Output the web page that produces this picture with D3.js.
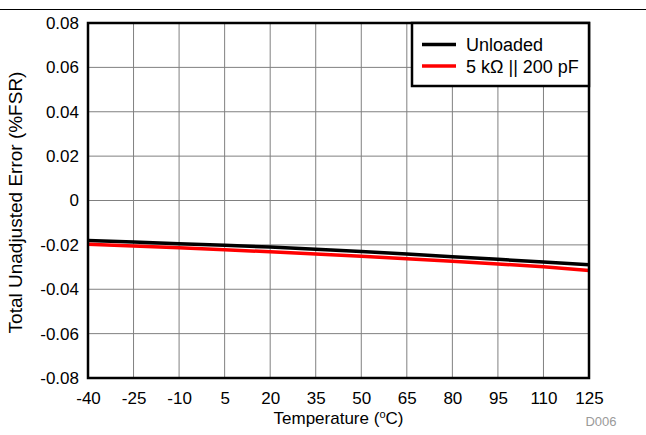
<!DOCTYPE html>
<html><head><meta charset="utf-8">
<script src="https://cdn.jsdelivr.net/npm/d3@7"></script>
<style>body{margin:0;background:#fff}svg{display:block;font-family:"Liberation Sans",Arial,sans-serif}</style>
</head><body><svg id="c" width="646" height="435"></svg>
<script>
const temps = [-40,-25,-10,5,20,35,50,65,80,95,110,125];
const unloaded = [-0.0180,-0.0187,-0.0195,-0.0202,-0.0210,-0.0220,-0.0230,-0.0241,-0.0253,-0.0265,-0.0277,-0.0290];
const loaded = [-0.0197,-0.0205,-0.0213,-0.0222,-0.0231,-0.0241,-0.0251,-0.0262,-0.0274,-0.0286,-0.0299,-0.0315];
const yTicks = [-0.08,-0.06,-0.04,-0.02,0,0.02,0.04,0.06,0.08];
const yLabels = ["-0.08","-0.06","-0.04","-0.02","0","0.02","0.04","0.06","0.08"];
const seriesNames = ["Unloaded","5 k\u03A9 || 200 pF"];
const colors = ["#000000","#ff0000"];

const FONT = "Liberation Sans, Arial, sans-serif";
const svg = d3.select("#c");
const L=88,R=589,T=23,B=378;
const x = d3.scaleLinear().domain([-40,125]).range([L,R]);
const y = d3.scaleLinear().domain([-0.08,0.08]).range([B,T]);

svg.append("line").attr("x1",0).attr("x2",646).attr("y1",9.5).attr("y2",9.5).attr("stroke","#000").attr("stroke-width",1.2);

const g = svg.append("g");
g.selectAll(".vg").data(temps.slice(1,-1)).enter().append("line")
 .attr("x1",d=>x(d)).attr("x2",d=>x(d)).attr("y1",T).attr("y2",B).attr("stroke","#808080").attr("stroke-width",1);
g.selectAll(".hg").data(yTicks.slice(1,-1)).enter().append("line")
 .attr("x1",L).attr("x2",R).attr("y1",d=>y(d)).attr("y2",d=>y(d)).attr("stroke","#808080").attr("stroke-width",1);

const xAxis = d3.axisBottom(x).tickValues(temps).tickSize(0).tickPadding(14.5).tickFormat(d=>String(d));
const ax = svg.append("g").attr("transform",`translate(0,${B})`).call(xAxis);
ax.select(".domain").remove();
ax.selectAll("text").attr("font-size",17).attr("fill","#000").attr("font-family",FONT).attr("dy","0.7em");

const yAxis = d3.axisLeft(y).tickValues(yTicks).tickSize(0).tickPadding(9).tickFormat((d,i)=>yLabels[i]);
const ay = svg.append("g").attr("transform",`translate(${L},0)`).call(yAxis);
ay.select(".domain").remove();
ay.selectAll("text").attr("font-size",17).attr("fill","#000").attr("font-family",FONT);

const line = d3.line().x((d,i)=>x(temps[i])).y(d=>y(d));
[unloaded,loaded].forEach((s,i)=>{
  svg.append("path").datum(s).attr("d",line).attr("fill","none").attr("stroke",colors[i]).attr("stroke-width",3.5);
});

svg.append("rect").attr("x",L).attr("y",T).attr("width",R-L).attr("height",B-T).attr("fill","none").attr("stroke","#000").attr("stroke-width",2.5);

// legend
const lg = svg.append("g");
lg.append("rect").attr("x",412).attr("y",T).attr("width",R-412).attr("height",63).attr("fill","#fff").attr("stroke","#000").attr("stroke-width",2.5);
seriesNames.forEach((n,i)=>{
  const yy = 44.5+i*21.5;
  lg.append("line").attr("x1",422).attr("x2",456).attr("y1",yy).attr("y2",yy).attr("stroke",colors[i]).attr("stroke-width",3.5);
  lg.append("text").attr("x",466).attr("y",yy+6.5).attr("font-size",18).text(n);
});

svg.append("text").attr("x",(L+R)/2).attr("y",424).attr("text-anchor","middle").attr("font-size",17)
 .html('Temperature (<tspan baseline-shift="super" font-size="11">o</tspan>C)');
svg.append("text").attr("transform",`translate(22,${(T+B)/2+2}) rotate(-90)`).attr("text-anchor","middle").attr("font-size",19)
 .text("Total Unadjusted Error (%FSR)");
svg.append("text").attr("x",601).attr("y",426).attr("text-anchor","middle").attr("font-size",13).attr("fill","#9a9a9a").text("D006");
</script></body></html>
